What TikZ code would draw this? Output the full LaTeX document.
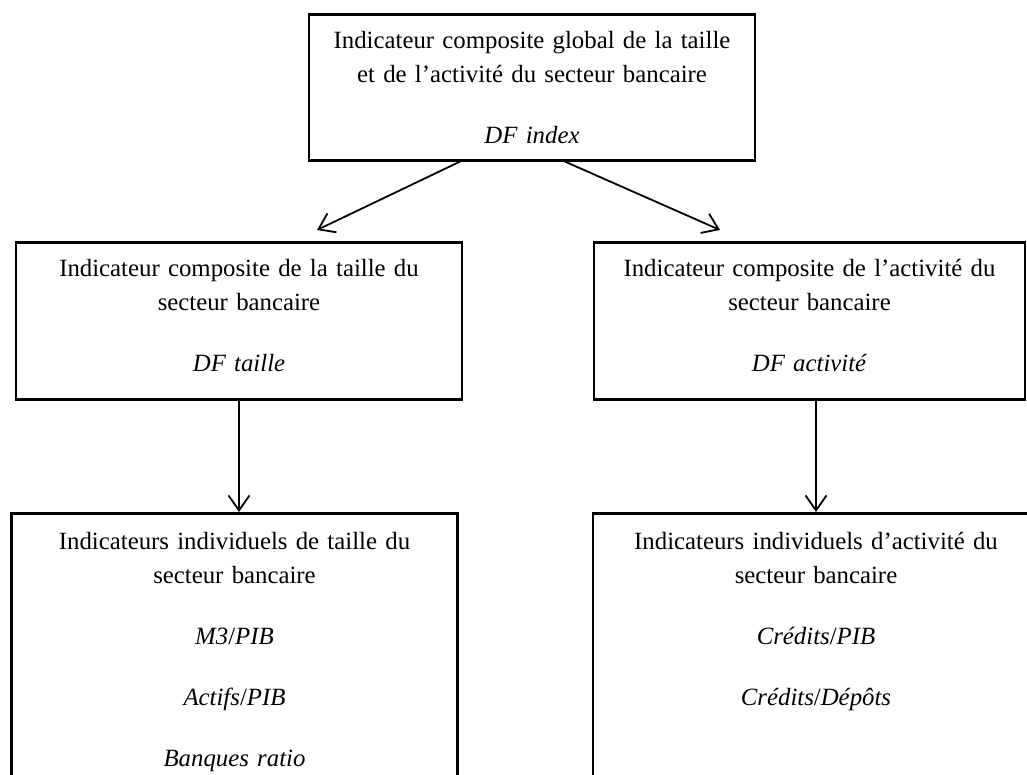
\documentclass[tikz,border=0pt]{standalone}
\usepackage{fontspec}
\setmainfont{Liberation Serif}
\usetikzlibrary{
  arrows.meta
}

\begin{document}
\begin{tikzpicture}[
      x=1pt, y=-1pt,
      indicator/.style={
         rectangle,
         line width=2.6pt,
         draw=black,
         inner sep=0pt,
         align=center,
         font=\fontsize{24.8}{34}\selectfont,
         text height=34pt
      },
      wide/.style={indicator, text width=446pt},
      narrow/.style={indicator, text width=431pt},
      >={Straight Barb[length=15pt,width=21pt]},
      tip/.style={->, line width=1.8pt}
    ]
    \useasboundingbox (0,0) rectangle (1027,775);
    % composite indicators
    \node (global) [wide, anchor=north, text depth=112pt] at (532,13)
       {Indicateur composite global de la taille\\ et de l’activité du secteur bancaire\\[27pt]\textit{DF index}};
    \node (taille) [wide, anchor=north, text depth=123pt] at (239,241)
       {Indicateur composite de la taille du\\ secteur bancaire\\[27pt]\textit{DF taille}};
    \node (activite) [narrow, anchor=north, text depth=123pt] at (809.5,241)
       {Indicateur composite de l’activité du\\ secteur bancaire\\[27pt]\textit{DF activité}};
    % individual indicators
    \node (indtaille) [wide, anchor=north, text height=35.7pt, text depth=300pt] at (234.5,512)
       {Indicateurs individuels de taille du\\ secteur bancaire\\[27pt]\textit{M3}/\textit{PIB}\\[27pt]\textit{Actifs}/\textit{PIB}\\[27pt]\textit{Banques ratio}};
    \node (indactivite) [wide, anchor=north, text height=35.7pt, text depth=300pt] at (816,512)
       {Indicateurs individuels d’activité du\\ secteur bancaire\\[27pt]\textit{Crédits}/\textit{PIB}\\[27pt]\textit{Crédits}/\textit{Dépôts}};
    % links
    \draw[tip] ([xshift=-72pt]global.south) -- ([xshift=78pt,yshift=11pt]taille.north);
    \draw[tip] ([xshift=33pt]global.south) -- ([xshift=-89.5pt,yshift=11pt]activite.north);
    \draw[tip] (taille.south) -- (taille.south |- indtaille.north);
    \draw[tip] (activite.south -| indactivite.north) -- (indactivite.north);
\end{tikzpicture}
\end{document}
